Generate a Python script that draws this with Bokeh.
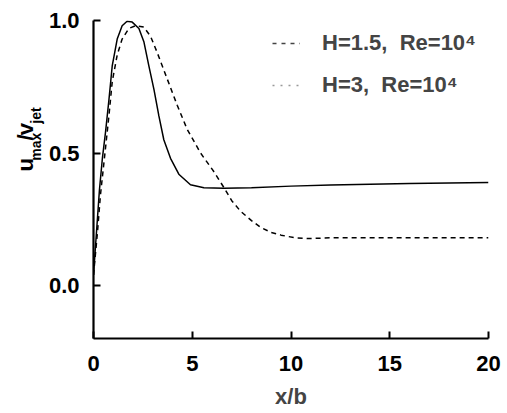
import numpy as np
from bokeh.plotting import figure
from bokeh.layouts import row
from bokeh.models import (Range1d, FixedTicker, Legend, LegendItem,
                          ColumnDataSource, NumeralTickFormatter)
from bokeh.core.properties import value
from bokeh.embed import file_html
from bokeh.resources import INLINE

# --- data ---
x_h15 = [0, 0.15, 0.3, 0.45, 0.61, 0.78, 0.95, 1.2, 1.45, 1.7, 1.96, 2.3,
         2.55, 2.8, 3.06, 3.31, 3.56, 3.9, 4.32, 4.91, 5.59, 6.6, 8, 10, 12,
         14, 16, 18, 20]
u_h15 = [0.04, 0.2, 0.36, 0.48, 0.58, 0.70, 0.83, 0.93, 0.98, 0.997, 0.994,
         0.97, 0.92, 0.83, 0.74, 0.64, 0.55, 0.48, 0.42, 0.38, 0.369, 0.367,
         0.369, 0.375, 0.379, 0.382, 0.385, 0.387, 0.389]

x_h3 = [0, 0.2, 0.35, 0.61, 0.78, 0.95, 1.2, 1.45, 1.79, 2.13, 2.55, 2.89,
        3.22, 3.73, 4.24, 4.74, 5.42, 6.09, 6.6, 7.0, 7.45, 8.0, 8.45, 9.0,
        9.5, 10.2, 10.8, 12, 14, 16, 18, 20]
u_h3 = [0.04, 0.2, 0.34, 0.52, 0.64, 0.77, 0.87, 0.93, 0.97, 0.98, 0.975,
        0.94, 0.88, 0.78, 0.68, 0.59, 0.50, 0.43, 0.37, 0.32, 0.28, 0.245,
        0.22, 0.2, 0.19, 0.18, 0.177, 0.18, 0.18, 0.18, 0.18, 0.18]

series_labels = ["H=1.5,  Re=10\u2074", "H=3,  Re=10\u2074"]
x_ticks = [0, 5, 10, 15, 20]
y_ticks = [0.0, 0.5, 1.0]

# y-axis title u_max / v_jet, split into main text and subscripts
ylabel_main = ["u", "/", "v"]
ylabel_sub = ["max", "jet"]

FONT = "Liberation Sans"
WEIGHT = "bold"
LEFT_W = 45
W, H = 507, 413

# ---------- narrow panel holding the rotated y-axis title ----------
pl = figure(width=LEFT_W, height=H, output_backend="svg", toolbar_location=None,
            x_range=Range1d(0, LEFT_W), y_range=Range1d(0, H),
            x_axis_type=None, y_axis_type=None)
pl.min_border = 0
pl.outline_line_color = None
pl.xgrid.visible = False
pl.ygrid.visible = False
# anchor positions (pixels of this panel, y measured upward)
main_src = ColumnDataSource(dict(x=[25, 25, 25], y=[H - 196, H - 156, H - 149],
                                 t=ylabel_main))
sub_src = ColumnDataSource(dict(x=[35, 35], y=[H - 182, H - 134], t=ylabel_sub))
pl.text("x", "y", text="t", source=main_src, angle=np.pi / 2,
        text_font=value(FONT), text_font_style=WEIGHT, text_font_size="22px",
        text_baseline="alphabetic", text_align="left", text_color="black")
pl.text("x", "y", text="t", source=sub_src, angle=np.pi / 2,
        text_font=value(FONT), text_font_style=WEIGHT, text_font_size="14px",
        text_baseline="alphabetic", text_align="left", text_color="black")

# ---------- main plot ----------
p = figure(width=W - LEFT_W, height=H, output_backend="svg",
           toolbar_location=None,
           x_range=Range1d(0, 20), y_range=Range1d(-0.2, 1.0))
p.min_border_left = 93 - LEFT_W
p.min_border_right = 19
p.min_border_top = 20
p.min_border_bottom = 75
p.outline_line_color = None
p.xgrid.visible = False
p.ygrid.visible = False

for ax in (p.xaxis[0], p.yaxis[0]):
    ax.axis_line_width = 2.2
    ax.axis_line_color = "black"
    ax.major_tick_line_width = 2
    ax.major_tick_line_color = "black"
    ax.major_tick_in = 7
    ax.major_tick_out = 0
    ax.minor_tick_line_color = None
    ax.major_label_text_font = FONT
    ax.major_label_text_font_style = WEIGHT
    ax.major_label_text_font_size = "22px"
    ax.major_label_text_color = "black"

p.xaxis.ticker = FixedTicker(ticks=x_ticks)
p.yaxis.ticker = FixedTicker(ticks=y_ticks)
p.yaxis.formatter = NumeralTickFormatter(format="0.0")
p.xaxis.major_label_standoff = 17
p.yaxis.major_label_standoff = 14
p.xaxis.axis_label = "x/b"
p.xaxis.axis_label_text_font = FONT
p.xaxis.axis_label_text_font_style = WEIGHT
p.xaxis.axis_label_text_font_size = "22px"
p.xaxis.axis_label_standoff = 10

src1 = ColumnDataSource(dict(x=x_h15, y=u_h15))
src2 = ColumnDataSource(dict(x=x_h3, y=u_h3))
p.line("x", "y", source=src1, line_color="black", line_width=1.5)
p.line("x", "y", source=src2, line_color="black", line_width=1.5,
       line_dash="5 4")

# legend glyph samples as they appear in the (scanned) reference
leg1 = p.line(x=[np.nan], y=[np.nan], line_color="#444444", line_width=1.3,
              line_dash="4 5")
leg2 = p.line(x=[np.nan], y=[np.nan], line_color="#999999", line_width=1.3,
              line_dash="2 6")
legend = Legend(items=[LegendItem(label=series_labels[0], renderers=[leg1]),
                       LegendItem(label=series_labels[1], renderers=[leg2])],
                location=(179, 240))
legend.label_text_font = FONT
legend.label_text_font_style = WEIGHT
legend.label_text_font_size = "22px"
legend.glyph_width = 28
legend.glyph_height = 22
legend.label_height = 22
legend.label_standoff = 22
legend.spacing = 16
legend.padding = 0
legend.margin = 0
legend.border_line_alpha = 0
legend.background_fill_alpha = 0
p.add_layout(legend)

layout = row(pl, p, spacing=0)
open("out.html", "w").write(file_html(layout, INLINE))
